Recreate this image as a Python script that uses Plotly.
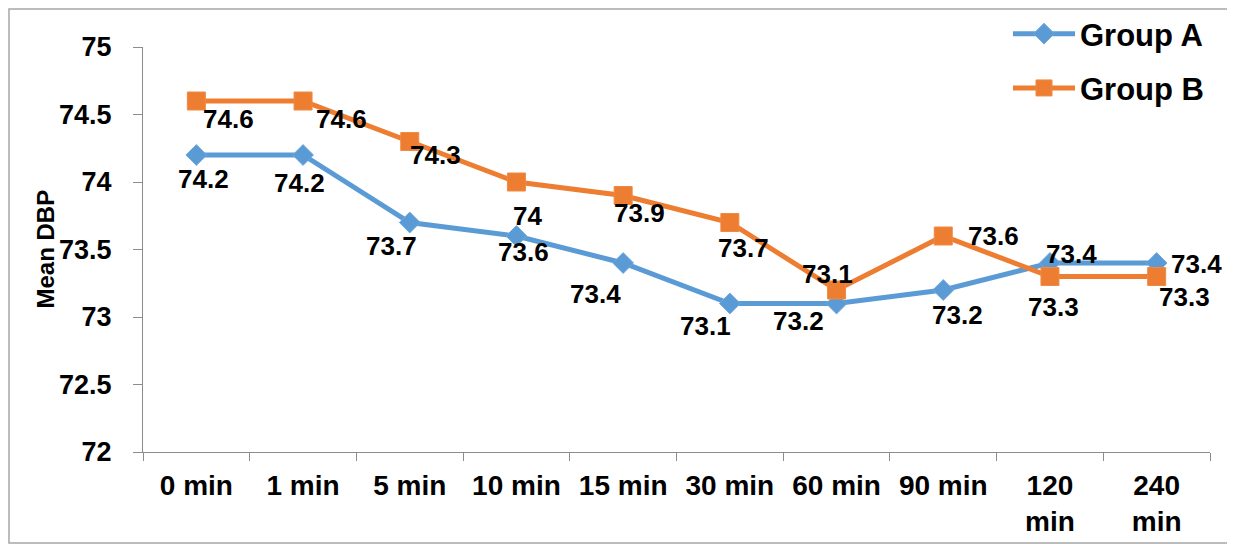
import plotly.graph_objects as go

# ---- data ----
categories = ["0 min", "1 min", "5 min", "10 min", "15 min", "30 min",
              "60 min", "90 min", "120 min", "240 min"]
tick_labels = ["0 min", "1 min", "5 min", "10 min", "15 min", "30 min",
               "60 min", "90 min", "120<br>min", "240<br>min"]
group_a = [74.2, 74.2, 73.7, 73.6, 73.4, 73.1, 73.1, 73.2, 73.4, 73.4]
group_b = [74.6, 74.6, 74.3, 74.0, 73.9, 73.7, 73.2, 73.6, 73.3, 73.3]
# data-label texts as printed on the original chart
labels_a = ["74.2", "74.2", "73.7", "73.6", "73.4", "73.1", "73.2", "73.2", "73.4", "73.4"]
labels_b = ["74.6", "74.6", "74.3", "74", "73.9", "73.7", "73.1", "73.6", "73.3", "73.3"]
y_ticks = [72, 72.5, 73, 73.5, 74, 74.5, 75]

# label offsets (pixels, x right / y up) – styling only
off_a = [(7, -24), (-4, -28), (-18, -23), (7, -16), (-28, -31), (-24, -22),
         (-38, -17), (14, -25), (22, 9), (40, -1)]
off_b = [(32, -18), (38, -18), (26, -13), (11, -34), (16, -17), (14, -25),
         (-9, 16), (50, 0), (4, -30), (28, -20)]

BLUE = "#5B9BD5"
ORANGE = "#ED7D31"
FONT = "Liberation Sans, Arial, sans-serif"

fig = go.Figure()
fig.add_trace(go.Scatter(
    x=categories, y=group_a, name="Group A", mode="lines+markers",
    legendgroup="a",
    line=dict(color=BLUE, width=5),
    marker=dict(symbol="diamond", size=16, color=BLUE,
                line=dict(color="#6FA8DC", width=1)),
))
fig.add_trace(go.Scatter(
    x=categories, y=group_b, name="Group B", mode="lines+markers",
    legendgroup="b",
    line=dict(color=ORANGE, width=5),
    marker=dict(symbol="square", size=18, color=ORANGE,
                line=dict(color="#F08A45", width=1)),
))

LABEL_FONT = dict(family=FONT, size=26, color="black", weight="bold")
annotations = []
for cat, val, txt, (dx, dy) in zip(categories, group_a, labels_a, off_a):
    annotations.append(dict(x=cat, y=val, text=txt, showarrow=False,
                            xshift=dx, yshift=dy, font=LABEL_FONT))
for cat, val, txt, (dx, dy) in zip(categories, group_b, labels_b, off_b):
    annotations.append(dict(x=cat, y=val, text=txt, showarrow=False,
                            xshift=dx, yshift=dy, font=LABEL_FONT))

# the page adds an 8px body margin; design in screen pixels and shift
OFF = 8
W, H = 1235 - OFF, 544 - OFF
L, R, T, B = 143 - OFF, 1235 - 1210, 47 - OFF, 544 - 452
pw, ph = W - L - R, H - T - B

def px_x(x):
    return (x - OFF - L) / pw

def px_y(y):
    return (H - B - (y - OFF)) / ph

# y-axis title as an annotation placed in paper coordinates
annotations.append(dict(x=px_x(45), y=0.5, xref="paper", yref="paper",
                        xanchor="center", yanchor="middle",
                        text="Mean DBP", showarrow=False, textangle=-90,
                        font=dict(family=FONT, size=24, color="black", weight="bold")))

fig.update_layout(
    width=W, height=H,
    margin=dict(l=L, r=R, t=T, b=B, autoexpand=False),
    paper_bgcolor="white", plot_bgcolor="white",
    font=dict(family=FONT, color="black"),
    annotations=annotations,
    showlegend=True,
    legend=dict(x=px_x(1008), y=px_y(7), xanchor="left", yanchor="top",
                bgcolor="rgba(0,0,0,0)", tracegroupgap=11, itemwidth=62,
                traceorder="grouped",
                font=dict(family=FONT, size=31, color="black", weight="bold")),
    xaxis=dict(
        type="category", categoryorder="array", categoryarray=categories,
        tickmode="array", tickvals=categories, ticktext=tick_labels,
        range=[-0.5, len(categories) - 0.5], automargin=False,
        showline=True, linecolor="#8C8C8C", linewidth=1,
        ticks="outside", tickson="boundaries", ticklen=8, tickcolor="#8C8C8C",
        showgrid=False, zeroline=False,
        tickfont=dict(family=FONT, size=28, color="black", weight="bold"),
        ticklabelstandoff=8,
    ),
    yaxis=dict(
        range=[72, 75], tickmode="array", tickvals=y_ticks,
        ticktext=[f"{v:g}" for v in y_ticks], automargin=False,
        showline=True, linecolor="#8C8C8C", linewidth=1,
        ticks="outside", ticklen=9, tickcolor="#8C8C8C",
        showgrid=False, zeroline=False,
        tickfont=dict(family=FONT, size=27, color="black", weight="bold"),
        ticklabelstandoff=16,
    ),
    shapes=[dict(type="rect", xref="paper", yref="paper",
                 x0=px_x(OFF + 1), x1=px_x(1232), y0=px_y(543), y1=px_y(OFF + 1),
                 line=dict(color="#A6A6A6", width=1.5), fillcolor="rgba(0,0,0,0)",
                 layer="below")],
)

fig.write_html("out.html")
